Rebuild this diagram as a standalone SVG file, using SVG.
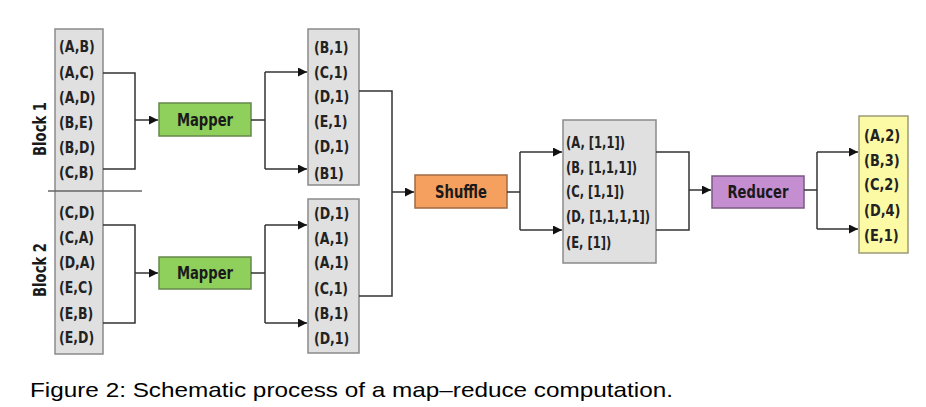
<svg xmlns="http://www.w3.org/2000/svg" width="926" height="407" viewBox="0 0 926 407">
<defs>
<marker id="ah" viewBox="0 0 10 10" refX="10" refY="5" markerWidth="9" markerHeight="9" markerUnits="userSpaceOnUse" orient="auto">
<path d="M0,0 L10,5 L0,10 z" fill="#111"/>
</marker>
<style>
.box{fill:#e0e0e0;stroke:#8a8a8a;stroke-width:1.5}
.t{font-family:"DejaVu Sans Condensed","DejaVu Sans",sans-serif;font-weight:bold;font-size:16px;fill:#222}
.lbl{font-family:"DejaVu Sans Condensed","DejaVu Sans",sans-serif;font-weight:bold;font-size:17px;fill:#1a1a1a;text-anchor:middle}
.c{fill:none;stroke:#333;stroke-width:1.5}
.a{fill:none;stroke:#333;stroke-width:1.5;marker-end:url(#ah)}
</style>
</defs>
<rect width="926" height="407" fill="#fff"/>

<g id="input">
<rect class="box" x="55" y="29" width="48" height="325"/>
<line x1="48" y1="191" x2="142" y2="191" stroke="#666" stroke-width="1.5"/>
<g transform="translate(59,0) scale(0.87,1)">
<text class="t" x="0" y="52.5">(A,B)</text>
<text class="t" x="0" y="78">(A,C)</text>
<text class="t" x="0" y="103">(A,D)</text>
<text class="t" x="0" y="128">(B,E)</text>
<text class="t" x="0" y="153">(B,D)</text>
<text class="t" x="0" y="178">(C,B)</text>
<text class="t" x="0" y="218">(C,D)</text>
<text class="t" x="0" y="243">(C,A)</text>
<text class="t" x="0" y="268">(D,A)</text>
<text class="t" x="0" y="293">(E,C)</text>
<text class="t" x="0" y="319">(E,B)</text>
<text class="t" x="0" y="343">(E,D)</text>
</g>
</g>
<g id="block1-label"><text class="lbl" transform="translate(46,129) rotate(-90) scale(0.86,1)">Block 1</text></g>
<g id="block2-label"><text class="lbl" transform="translate(46,270) rotate(-90) scale(0.86,1)">Block 2</text></g>

<g id="mapper1">
<rect x="159" y="103" width="92" height="33" fill="#8fcf5c" stroke="#66884a" stroke-width="1.5"/>
<text class="lbl" transform="translate(205,125.5) scale(0.86,1)">Mapper</text>
</g>
<g id="mapper2">
<rect x="159" y="257" width="92" height="32" fill="#8fcf5c" stroke="#66884a" stroke-width="1.5"/>
<text class="lbl" transform="translate(205,279) scale(0.86,1)">Mapper</text>
</g>

<g id="out1">
<rect class="box" x="308" y="29" width="51" height="156"/>
<g transform="translate(314,0) scale(0.87,1)">
<text class="t" x="0" y="53">(B,1)</text>
<text class="t" x="0" y="78">(C,1)</text>
<text class="t" x="0" y="102">(D,1)</text>
<text class="t" x="0" y="127">(E,1)</text>
<text class="t" x="0" y="152">(D,1)</text>
<text class="t" x="0" y="179">(B1)</text>
</g>
</g>
<g id="out2">
<rect class="box" x="308" y="199" width="51" height="154"/>
<g transform="translate(314,0) scale(0.87,1)">
<text class="t" x="0" y="219">(D,1)</text>
<text class="t" x="0" y="244">(A,1)</text>
<text class="t" x="0" y="268">(A,1)</text>
<text class="t" x="0" y="294">(C,1)</text>
<text class="t" x="0" y="319">(B,1)</text>
<text class="t" x="0" y="344">(D,1)</text>
</g>
</g>

<g id="shuffle">
<rect x="415" y="175" width="92" height="33" fill="#f5a05e" stroke="#a06a44" stroke-width="1.5"/>
<text class="lbl" transform="translate(461,197.5) scale(0.86,1)">Shuffle</text>
</g>

<g id="grouped">
<rect class="box" x="563" y="120" width="93" height="143"/>
<g transform="translate(566,0) scale(0.8,1)">
<text class="t" x="0" y="148">(A, [1,1])</text>
<text class="t" x="0" y="173">(B, [1,1,1])</text>
<text class="t" x="0" y="197">(C, [1,1])</text>
<text class="t" x="0" y="222">(D, [1,1,1,1])</text>
<text class="t" x="0" y="248">(E, [1])</text>
</g>
</g>

<g id="reducer">
<rect x="712" y="176" width="92" height="32" fill="#c58ed0" stroke="#7a5a82" stroke-width="1.5"/>
<text class="lbl" transform="translate(758,198) scale(0.86,1)">Reducer</text>
</g>

<g id="result">
<rect x="859" y="116" width="49" height="137" fill="#fdfaa6" stroke="#9a9a7a" stroke-width="1.5"/>
<g transform="translate(864,0) scale(0.9,1)">
<text class="t" x="0" y="141">(A,2)</text>
<text class="t" x="0" y="166">(B,3)</text>
<text class="t" x="0" y="190">(C,2)</text>
<text class="t" x="0" y="216">(D,4)</text>
<text class="t" x="0" y="241">(E,1)</text>
</g>
</g>

<g id="connectors">
<path class="c" d="M103,73 H135 V169 H103"/>
<path class="a" d="M135,120 H158"/>
<path class="c" d="M251,120 H265"/>
<path class="c" d="M265,72 V169"/>
<path class="a" d="M265,72 H307"/>
<path class="a" d="M265,169 H307"/>

<path class="c" d="M103,225 H135 V323 H103"/>
<path class="a" d="M135,273 H158"/>
<path class="c" d="M251,273 H265"/>
<path class="c" d="M265,225 V323"/>
<path class="a" d="M265,225 H307"/>
<path class="a" d="M265,323 H307"/>

<path class="c" d="M359,91 H392 V296 H359"/>
<path class="a" d="M392,192 H414"/>
<path class="c" d="M507,192 H520"/>
<path class="c" d="M520,152 V230"/>
<path class="a" d="M520,152 H562"/>
<path class="a" d="M520,230 H562"/>

<path class="c" d="M656,152 H689 V230 H656"/>
<path class="a" d="M689,190 H711"/>
<path class="c" d="M804,190 H817"/>
<path class="c" d="M817,152 V229"/>
<path class="a" d="M817,152 H858"/>
<path class="a" d="M817,229 H858"/>
</g>

<text x="30" y="397" font-family="Liberation Sans, Arial, sans-serif" font-size="21" fill="#000" textLength="643" lengthAdjust="spacingAndGlyphs">Figure 2: Schematic process of a map–reduce computation.</text>
</svg>
